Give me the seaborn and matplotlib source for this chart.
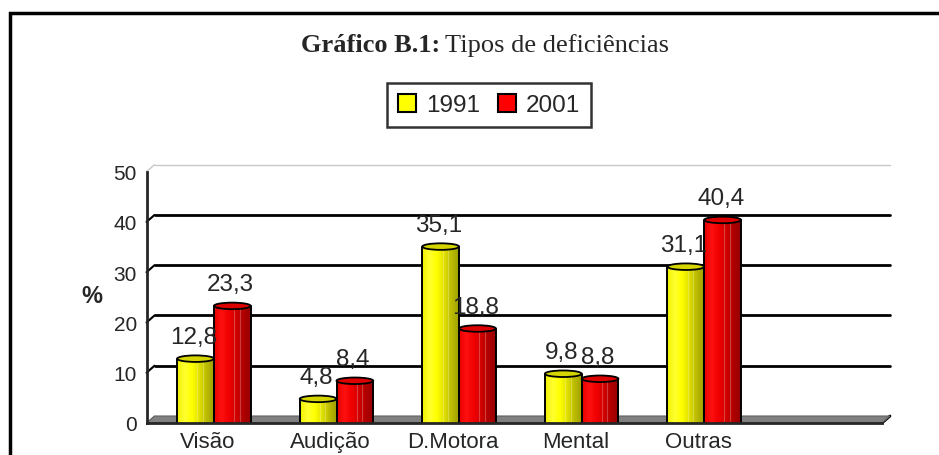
import numpy as np
import pandas as pd
import seaborn as sns
import matplotlib.pyplot as plt
from matplotlib.patches import Ellipse, Rectangle, Polygon, Patch
from matplotlib.colors import LinearSegmentedColormap
import matplotlib.transforms as mtransforms

# dados
categorias = ['Visão', 'Audição', 'D.Motora', 'Mental', 'Outras']
anos = ['1991', '2001']
valores_1991 = [12.8, 4.8, 35.1, 9.8, 31.1]
valores_2001 = [23.3, 8.4, 18.8, 8.8, 40.4]
yticks = [0, 10, 20, 30, 40, 50]

df = pd.DataFrame({
    'categoria': categorias * 2,
    'ano': ['1991'] * 5 + ['2001'] * 5,
    'valor': valores_1991 + valores_2001,
})
ordem = categorias + [' ']  # sexta posição vazia como no original

sns.set_style('white')
plt.rcParams['font.family'] = ['Liberation Sans', 'DejaVu Sans']

fig = plt.figure(figsize=(9.39, 4.56), dpi=100)
W, H = 939, 456
ax = fig.add_axes([146.5 / W, (H - 424) / H, 735.5 / W, (424 - 172.7) / H])

cores = {'1991': '#ffff00', '2001': '#ff0000'}
sns.barplot(data=df, x='categoria', y='valor', hue='ano', order=ordem,
            hue_order=anos, palette=cores, saturation=1, width=0.6, gap=0,
            edgecolor='black', linewidth=1.3, ax=ax, legend=False)

ax.set_ylim(0, 50)
ax.set_xlim(-0.5, 5.5)

# profundidade 3D (pixels)
dx, dy = 8, 7
back_ax = mtransforms.offset_copy(ax.get_yaxis_transform(), fig=fig, x=dx, y=dy, units='dots')
inv = ax.transAxes.inverted()

# piso cinza
x0, y0 = ax.transAxes.transform((0, 0))
x1, _ = ax.transAxes.transform((1, 0))
pts = [(x0, y0), (x1, y0), (x1 + dx, y0 + dy), (x0 + dx, y0 + dy)]
pts = [inv.transform(p) for p in pts]
ax.add_patch(Polygon(pts, closed=True, transform=ax.transAxes,
                     facecolor='#808080', edgecolor='#606060', lw=0.8,
                     zorder=1, clip_on=False))

# grades no fundo
for v in yticks[1:]:
    cor = '#c8c8c8' if v == 50 else 'black'
    lw = 1.0 if v == 50 else 2.0
    ax.plot([0, 1], [v, v], transform=back_ax, color=cor, lw=lw, zorder=0.5,
            clip_on=False)
for v in yticks:
    xa, ya = ax.get_yaxis_transform().transform((0, v))
    pa = inv.transform((xa, ya))
    pb = inv.transform((xa + dx, ya + dy))
    cor = '#c8c8c8' if v in (0, 50) else 'black'
    ax.plot([pa[0], pb[0]], [pa[1], pb[1]], transform=ax.transAxes,
            color=cor, lw=1.5 if v not in (0, 50) else 1.0, clip_on=False, zorder=0.6)
pr = inv.transform((x1 + dx, y0 + dy))
ax.plot([1, pr[0]], [0, pr[1]], transform=ax.transAxes, color='black', lw=2,
        clip_on=False, zorder=0.6)

# cilindros
mapas = {
    'am': LinearSegmentedColormap.from_list('am', ['#f0f000', '#ffff30', '#ffff00', '#e0e000', '#bcbc00', '#a0a000']),
    'vm': LinearSegmentedColormap.from_list('vm', ['#e80000', '#ff1010', '#f00000', '#d00000', '#b00000', '#980000']),
}
topos = {'am': '#d4d400', 'vm': '#dd0000'}
gradiente = np.linspace(0, 1, 64).reshape(1, -1)
elip_h = 1.3
barras = [p for p in ax.patches if isinstance(p, Rectangle) and p.get_height() > 0]
for p in barras:
    fc = p.get_facecolor()
    chave = 'am' if fc[1] > 0.5 else 'vm'
    x, w, h = p.get_x() + 0.05, p.get_width(), p.get_height()
    p.set_visible(False)
    ax.add_patch(Ellipse((x + w / 2, 0), w, elip_h, facecolor=mapas[chave](0.6),
                         edgecolor='black', lw=1.3, zorder=2))
    corpo = Rectangle((x, 0), w, h, facecolor='none', edgecolor='none', zorder=2.1)
    ax.add_patch(corpo)
    im = ax.imshow(gradiente, cmap=mapas[chave], extent=(x, x + w, 0, h),
                   aspect='auto', zorder=2.1, interpolation='bilinear')
    im.set_clip_path(corpo)
    # reflexos verticais
    for f in (0.55, 0.7):
        ax.plot([x + f * w] * 2, [0.3, h], color='white', alpha=0.25, lw=0.8, zorder=2.15)
    ax.plot([x, x], [0, h], color='black', lw=1.4, zorder=2.2)
    ax.plot([x + w, x + w], [0, h], color='black', lw=1.4, zorder=2.2)
    ax.add_patch(Ellipse((x + w / 2, h), w, elip_h, facecolor=topos[chave],
                         edgecolor='black', lw=1.3, zorder=2.3))
    ax.annotate(f'{h:.1f}'.replace('.', ','), (x + w / 2, h),
                xytext=(-2, 11), textcoords='offset pixels',
                ha='center', va='bottom', fontsize=17.5, zorder=3)

ax.set_xlim(-0.5, 5.5)
ax.set_ylim(0, 50)

# eixos
sns.despine(ax=ax, top=True, right=True)
ax.spines['left'].set_linewidth(2)
ax.spines['bottom'].set_linewidth(2)
ax.spines['left'].set_zorder(4)
ax.set_yticks(yticks)
ax.set_yticklabels([str(v) for v in yticks], fontsize=15)
ax.set_xticks(range(6))
ax.set_xticklabels(ordem, fontsize=16)
ax.set_xticks(np.arange(-0.5, 6, 1), minor=True)
ax.tick_params(axis='x', which='major', length=0, pad=6)
ax.tick_params(axis='x', which='minor', length=6, width=2, direction='out', color='black')
ax.tick_params(axis='y', length=6, width=2, direction='out', color='black', pad=1)
ax.set_xlabel('')
ax.set_ylabel('')
ax.grid(False)
fig.text(92 / W, 1 - 297 / H, '%', fontsize=17, fontweight='bold', ha='center', va='center')

# legenda
handles = [Patch(facecolor=cores[a], edgecolor='black', lw=1.5) for a in anos]
leg = fig.legend(handles, anos, loc='center', bbox_to_anchor=(489 / W, 1 - 106 / H),
                 ncol=2, fontsize=17.5, frameon=True, fancybox=False,
                 handlelength=0.75, handleheight=0.75, handletextpad=0.4,
                 columnspacing=0.75, borderpad=0.45, borderaxespad=0, edgecolor='black')
leg.get_frame().set_linewidth(1.8)

# titulo
serif = ['Liberation Serif', 'DejaVu Serif']
fig.text(440 / W, 1 - 46 / H, 'Gráfico B.1:', ha='right', va='center',
         fontsize=19, fontweight='bold', family=serif)
fig.text(445 / W, 1 - 46 / H, 'Tipos de deficiências', ha='left', va='center',
         fontsize=19, family=serif)

# moldura
fig.patches.append(Rectangle((10 / W, -0.2), 1.0, 1.2 - 14 / H, transform=fig.transFigure,
                             fill=False, edgecolor='black', lw=2.5, figure=fig))

fig.savefig('out.png', dpi=100)
